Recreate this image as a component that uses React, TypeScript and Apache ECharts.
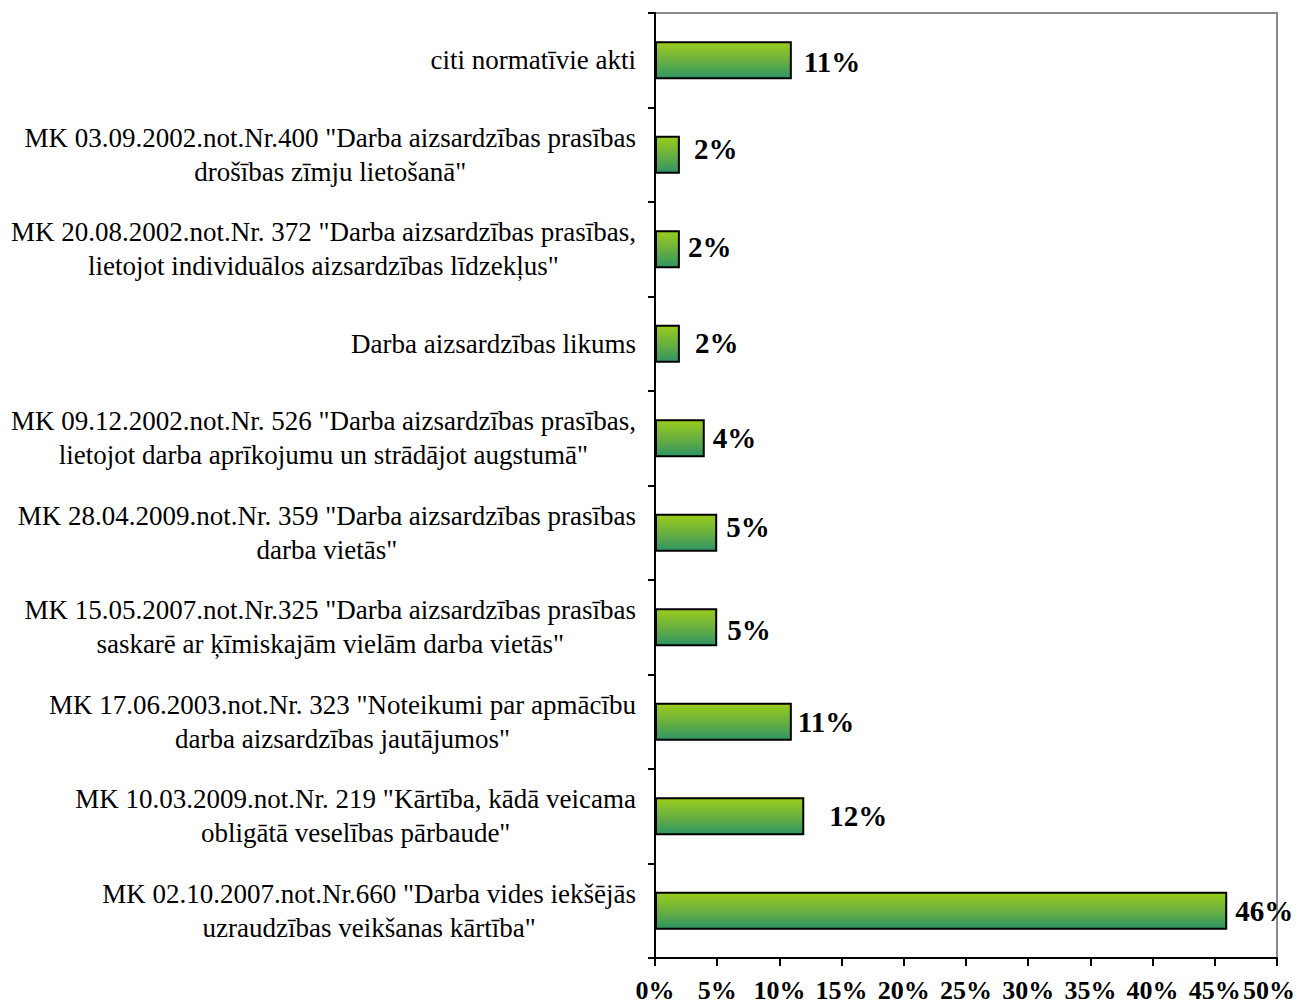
import React, { useEffect, useRef } from "react";
import * as echarts from "echarts";

const categories: string[] = [
  'MK 02.10.2007.not.Nr.660 "Darba vides iekšējās\nuzraudzības veikšanas kārtība"',
  'MK 10.03.2009.not.Nr. 219 "Kārtība, kādā veicama\nobligātā veselības pārbaude"',
  'MK 17.06.2003.not.Nr. 323 "Noteikumi par apmācību\ndarba aizsardzības jautājumos"',
  'MK 15.05.2007.not.Nr.325 "Darba aizsardzības prasības\nsaskarē ar ķīmiskajām vielām darba vietās"',
  'MK 28.04.2009.not.Nr. 359 "Darba aizsardzības prasības\ndarba vietās"',
  'MK 09.12.2002.not.Nr. 526 "Darba aizsardzības prasības,\nlietojot darba aprīkojumu un strādājot augstumā"',
  "Darba aizsardzības likums",
  'MK 20.08.2002.not.Nr. 372 "Darba aizsardzības prasības,\nlietojot individuālos aizsardzības līdzekļus"',
  'MK 03.09.2002.not.Nr.400 "Darba aizsardzības prasības\ndrošības zīmju lietošanā"',
  "citi normatīvie akti",
];

const values: number[] = [46, 12, 11, 5, 5, 4, 2, 2, 2, 11];

// per-label nudges [dx, dy] as in the reference
const labelOffsets: number[][] = [
  [8, 0],
  [25, 0],
  [6, 0],
  [10, 3],
  [9, -6],
  [8, 0],
  [15, -1],
  [8, -2],
  [14, -6],
  [12, 2],
];

const xTicks = { min: 0, max: 50, interval: 5 };

const FONT = "'Liberation Serif', 'Times New Roman', serif";

export default function App() {
  const ref = useRef<HTMLDivElement>(null);
  useEffect(() => {
    document.body.style.margin = "0";
    const chart = echarts.init(ref.current!, null, { renderer: "svg" });
    const gradient = new echarts.graphic.LinearGradient(0, 0, 0, 1, [
      { offset: 0, color: "#9ACD1C" },
      { offset: 0.5, color: "#6BB03F" },
      { offset: 1, color: "#2E9464" },
    ]);
    const xLabelStyle = {
      fontFamily: FONT,
      fontWeight: "bold",
      fontSize: 26,
      color: "#000",
    };
    chart.setOption({
      animation: false,
      grid: {
        left: 655,
        right: 27,
        top: 13,
        bottom: 47,
        outerBoundsMode: "none",
        containLabel: false,
        show: true,
        borderColor: "#8a8a8a",
        borderWidth: 2,
        backgroundColor: "transparent",
      },
      xAxis: {
        type: "value",
        min: xTicks.min,
        max: xTicks.max,
        interval: xTicks.interval,
        splitLine: { show: false },
        axisLine: { show: true, lineStyle: { color: "#000", width: 2 } },
        axisTick: { show: true, inside: false, length: 8, lineStyle: { color: "#000", width: 2 } },
        axisLabel: {
          formatter: (v: number) =>
            v === xTicks.max ? "{m|" + v + "%}" : "{a|" + v + "%}",
          margin: 19,
          rich: {
            a: { ...xLabelStyle },
            m: { ...xLabelStyle, padding: [0, 16, 0, 0] },
          },
        },
      },
      yAxis: {
        type: "category",
        data: categories,
        axisLine: { show: true, lineStyle: { color: "#000", width: 2 } },
        axisTick: { show: true, inside: false, length: 7, lineStyle: { color: "#000", width: 2 } },
        axisLabel: {
          margin: 19,
          align: "right",
          formatter: (v: string) =>
            v
              .split("\n")
              .map((l) => "{c|" + l + "}")
              .join("\n"),
          rich: {
            c: {
              align: "center",
              fontFamily: FONT,
              fontSize: 27,
              lineHeight: 34,
              color: "#000",
            },
          },
        },
      },
      series: [
        {
          type: "bar",
          barWidth: 38,
          data: values.map((v, i) => ({
            value: v,
            label: { offset: labelOffsets[i] },
          })),
          itemStyle: {
            color: gradient,
            borderColor: "#000",
            borderWidth: 2,
          },
          label: {
            show: true,
            position: "right",
            distance: 0,
            formatter: "{c}%",
            fontFamily: FONT,
            fontWeight: "bold",
            fontSize: 29,
            color: "#000",
          },
        },
      ],
    });
    return () => chart.dispose();
  }, []);
  return <div ref={ref} style={{ width: 1304, height: 1005 }} />;
}
